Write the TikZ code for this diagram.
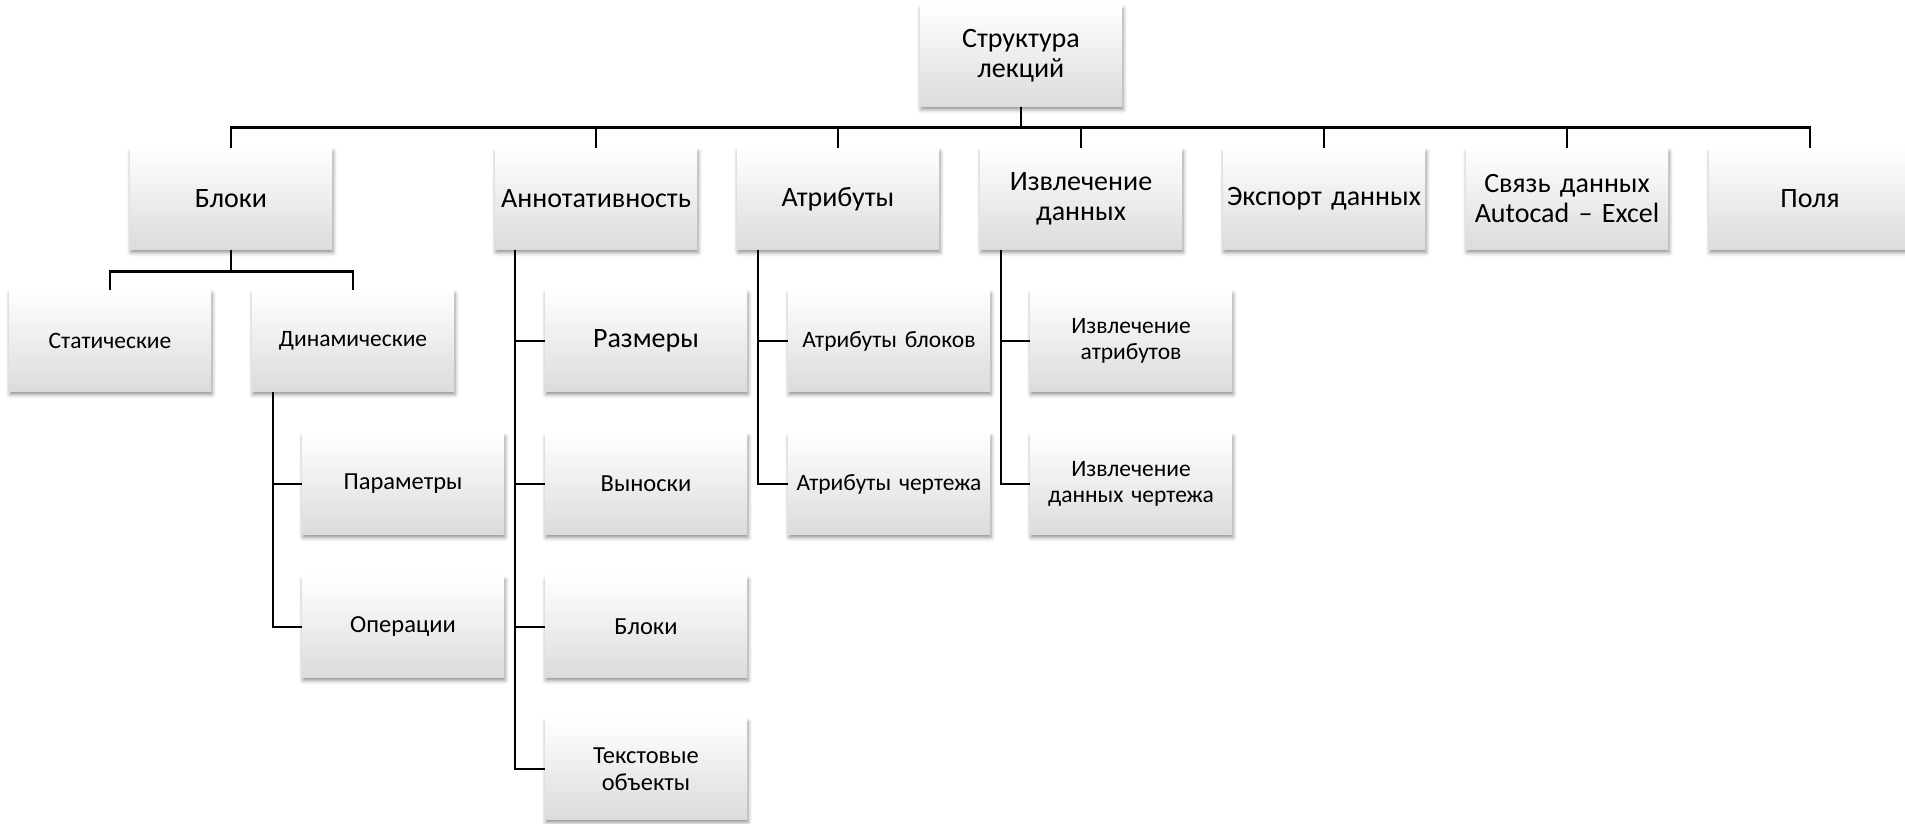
\documentclass[tikz,border=0pt]{standalone}
\usepackage{fontspec}
\setmainfont{Carlito}[WordSpace=0.85]
\usetikzlibrary{shadows.blur,calc}
\tikzset{
  box/.style={rectangle, text width=198pt, minimum height=101pt, inner sep=2pt, align=center,
    top color=white, middle color=white!97!black, bottom color=white!86!black,
    blur shadow={shadow xshift=1pt, shadow yshift=-3pt, shadow blur radius=4pt, shadow opacity=45}},
  fA/.style={font=\fontsize{28}{30}\selectfont},
  fC/.style={font=\fontsize{23.5}{26}\selectfont},
  fD/.style={font=\fontsize{24.5}{27}\selectfont},
  link/.style={line width=2.6pt, black}
}
\begin{document}
\begin{tikzpicture}[x=1pt,y=-1pt]
\useasboundingbox (0,0) rectangle (1905,823);
% root
\node[box,fA] (root) at (1021,56) {Структура\\лекций};
% level 1
\node[box,fA] (blk) at (231,199) {Блоки};
\node[box,fA] (ann) at (596,199) {Аннотативность};
\node[box,fA] (atr) at (838,199) {Атрибуты};
\node[box,fA] (izv) at (1081,199) {Извлечение\\данных};
\node[box,fA] (exp) at (1324,199) {Экспорт данных};
\node[box,fA] (svz) at (1567,199) {Связь данных\\Autocad – Excel};
\node[box,fA] (pol) at (1810,199) {Поля};
% level 2
\node[box,fC] (stat) at (110,341) {Статические};
\node[box,fC] (dyn) at (353,341) {Динамические};
\node[box,fA] (raz) at (646,341) {Размеры};
\node[box,fC] (atb) at (889,341) {Атрибуты блоков};
\node[box,fC] (iat) at (1131,341) {Извлечение\\атрибутов};
% level 3
\node[box,fD] (par) at (403,484) {Параметры};
\node[box,fD] (vyn) at (646,484) {Выноски};
\node[box,fC] (atc) at (889,484) {Атрибуты чертежа};
\node[box,fC] (idc) at (1131,484) {Извлечение\\данных чертежа};
% level 4
\node[box,fD] (opr) at (403,627) {Операции};
\node[box,fD] (blk2) at (646,627) {Блоки};
% level 5
\node[box,fD] (txt) at (646,769) {Текстовые\\объекты};
% connectors
\foreach \c in {blk,ann,atr,izv,exp,svz,pol}
  \draw[link] (root.south) -- ++(0,21) -| (\c.north);
\foreach \c in {stat,dyn}
  \draw[link] (blk.south) -- ++(0,22) -| (\c.north);
\coordinate (dynL) at ($(dyn.south west)+(21,0)$);
\foreach \c in {par,opr}
  \draw[link] (dynL) |- (\c.west);
\coordinate (annL) at ($(ann.south west)+(20,0)$);
\foreach \c in {raz,vyn,blk2,txt}
  \draw[link] (annL) |- (\c.west);
\coordinate (atrL) at ($(atr.south west)+(21,0)$);
\foreach \c in {atb,atc}
  \draw[link] (atrL) |- (\c.west);
\coordinate (izvL) at ($(izv.south west)+(21,0)$);
\foreach \c in {iat,idc}
  \draw[link] (izvL) |- (\c.west);
\end{tikzpicture}
\end{document}
